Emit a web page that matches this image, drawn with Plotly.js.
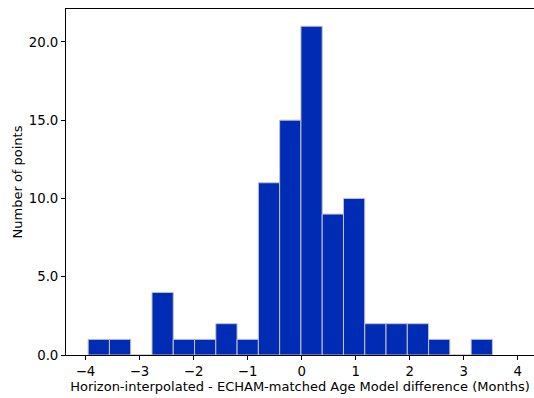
<!DOCTYPE html>
<html>
<head>
<meta charset="utf-8">
<script src="https://cdn.plot.ly/plotly-3.0.1.min.js"></script>
<style>html,body{margin:0;padding:0;background:#fff;}#chart{width:534px;height:398px;}</style>
</head>
<body>
<div id="chart"></div>
<script>
// Histogram of differences (months)
const binStart = -3.95;
const binWidth = 0.3937;
const counts = [1, 1, 0, 4, 1, 1, 2, 1, 11, 15, 21, 9, 10, 2, 2, 2, 1, 0, 1];
const xTickVals = [-4, -3, -2, -1, 0, 1, 2, 3, 4];
const xTickText = ["\u22124", "\u22123", "\u22122", "\u22121", "0", "1", "2", "3", "4"];
const yTickVals = [0, 5, 10, 15, 20];
const yTickText = ["0.0", "5.0", "10.0", "15.0", "20.0"];

const centers = counts.map((_, i) => binStart + binWidth * (i + 0.5));

const trace = {
  type: 'bar',
  x: centers,
  y: counts,
  width: binWidth,
  marker: { color: '#002bb5', line: { color: '#c4c4c4', width: 1 } },
  hoverinfo: 'skip'
};

const fnt = { family: 'DejaVu Sans, sans-serif', size: 13.3, color: '#000' };
const tfnt = { family: 'DejaVu Sans, sans-serif', size: 13, color: '#000' };

const layout = {
  width: 534, height: 398,
  margin: { l: 66, r: 0, t: 9, b: 43 },
  paper_bgcolor: '#fff', plot_bgcolor: '#fff',
  showlegend: false,
  bargap: 0,
  font: fnt,
  xaxis: {
    range: [-4.36, 4.30],
    tickvals: xTickVals, ticktext: xTickText,
    ticks: 'outside', ticklen: 4, tickwidth: 1, tickcolor: '#000',
    showline: true, linecolor: '#000', linewidth: 1, mirror: true,
    showgrid: false, zeroline: false,
    tickfont: fnt,
    title: { text: 'Horizon-interpolated - ECHAM-matched Age Model difference (Months)', font: tfnt, standoff: 3 }
  },
  yaxis: {
    range: [0, 22.1],
    tickvals: yTickVals, ticktext: yTickText,
    ticks: 'outside', ticklen: 4, tickwidth: 1, tickcolor: '#000',
    showline: true, linecolor: '#000', linewidth: 1, mirror: true,
    showgrid: false, zeroline: false,
    tickfont: fnt,
    title: { text: 'Number of points', font: tfnt, standoff: 3 }
  }
};

Plotly.newPlot('chart', [trace], layout, { displayModeBar: false, staticPlot: true });
</script>
</body>
</html>
